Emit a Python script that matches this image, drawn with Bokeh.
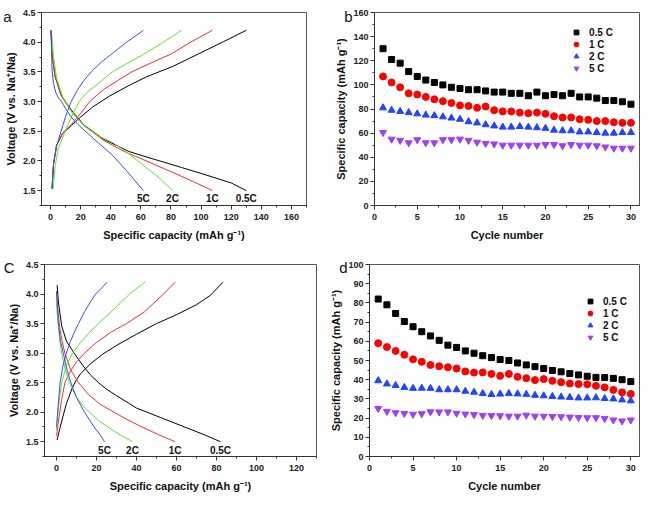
from bokeh.plotting import figure
from bokeh.layouts import column, row
from bokeh.models import (Range1d, SingleIntervalTicker, FixedTicker, LinearAxis, Legend,
                          LegendItem, NumeralTickFormatter)
from bokeh.core.properties import value
from bokeh.embed import file_html
from bokeh.resources import INLINE

# ---------------- data: panel a (charge / discharge profiles) ----------------
rates = ["0.5C", "1C", "2C", "5C"]
a_ch_05_x = [1, 2, 4, 8, 14, 20, 28, 39, 52, 64, 81, 98, 115, 130]
a_ch_05_v = [1.53, 1.95, 2.26, 2.46, 2.6, 2.74, 2.91, 3.09, 3.27, 3.42, 3.59, 3.80, 4.01, 4.2]
a_ch_1_x = [1, 2, 4, 8, 14, 20, 26, 35, 45, 54, 65, 80, 93, 107.5]
a_ch_1_v = [1.53, 1.95, 2.26, 2.47, 2.62, 2.8, 3.0, 3.2, 3.36, 3.5, 3.63, 3.8, 4.0, 4.2]
a_ch_2_x = [1.7, 3, 5, 9, 14, 19, 25, 33, 41, 50, 62, 75, 87]
a_ch_2_v = [1.53, 1.9, 2.2, 2.45, 2.75, 3.0, 3.17, 3.33, 3.5, 3.63, 3.8, 4.0, 4.2]
a_ch_5_x = [1, 2, 4, 7, 10, 13.7, 18, 22, 27, 34, 42, 50.5, 61.7]
a_ch_5_v = [1.53, 1.95, 2.25, 2.5, 2.75, 3.0, 3.2, 3.35, 3.5, 3.67, 3.83, 4.0, 4.2]

a_dc_05_x = [0.3, 1, 3, 7, 14, 22, 35, 52, 66, 87, 100, 120, 130]
a_dc_05_v = [4.2, 3.8, 3.43, 3.11, 2.85, 2.61, 2.37, 2.16, 2.05, 1.89, 1.79, 1.63, 1.5]
a_dc_1_x = [0.3, 1, 3, 7, 14, 22, 35, 48, 60, 80, 95, 107.5]
a_dc_1_v = [4.2, 3.8, 3.43, 3.1, 2.83, 2.6, 2.35, 2.17, 2.04, 1.82, 1.65, 1.5]
a_dc_2_x = [1, 2, 4, 8, 14, 22, 32, 42, 52, 62, 72, 81]
a_dc_2_v = [4.1, 3.75, 3.4, 3.08, 2.83, 2.6, 2.42, 2.3, 2.12, 1.92, 1.72, 1.5]
a_dc_5_x = [0.3, 1, 2, 3.5, 5.3, 7.4, 10, 13.7, 18, 24, 32, 41, 50, 61.7]
a_dc_5_v = [4.2, 3.54, 3.3, 3.15, 3.06, 3.0, 2.88, 2.74, 2.62, 2.48, 2.3, 2.1, 1.85, 1.5]

# ---------------- data: panel c ----------------
c_ch_05_x = [0.3, 1.5, 3, 5, 8, 10, 12, 17, 23, 30, 40, 50, 60, 70, 77, 83.2]
c_ch_05_v = [1.53, 1.7, 1.9, 2.15, 2.42, 2.55, 2.65, 2.82, 2.98, 3.13, 3.32, 3.5, 3.65, 3.82, 3.98, 4.2]
c_ch_1_x = [0, 1, 2.5, 4.2, 7, 10, 14, 20, 27, 35, 44, 53.5, 59.3]
c_ch_1_v = [1.6, 1.85, 2.2, 2.5, 2.7, 2.85, 3.0, 3.18, 3.35, 3.5, 3.7, 4.0, 4.2]
c_ch_2_x = [0, 1, 2.6, 5, 8, 12, 16, 21, 28, 36.5, 44.2]
c_ch_2_v = [1.7, 2.1, 2.5, 2.8, 3.0, 3.18, 3.33, 3.5, 3.72, 4.0, 4.2]
c_ch_5_x = [0, 0.8, 1.8, 3.2, 4.9, 7, 9, 11, 14, 17, 19.6, 22.5, 25.3]
c_ch_5_v = [1.75, 2.1, 2.5, 2.78, 3.0, 3.2, 3.36, 3.5, 3.7, 3.87, 4.0, 4.1, 4.2]

c_dc_05_x = [0.3, 1, 2.6, 5, 8.8, 13.4, 17, 21, 25, 30, 40, 52, 64, 73, 82]
c_dc_05_v = [4.15, 3.85, 3.46, 3.2, 3.0, 2.78, 2.63, 2.5, 2.39, 2.28, 2.07, 1.91, 1.75, 1.63, 1.5]
c_dc_1_x = [0, 0.5, 1.5, 2.8, 4.2, 7, 11, 16, 22, 28.8, 35, 42.7, 51, 59.3]
c_dc_1_v = [4.05, 3.8, 3.45, 3.2, 3.0, 2.72, 2.5, 2.3, 2.13, 2.0, 1.88, 1.75, 1.62, 1.5]
c_dc_2_x = [0, 0.6, 1.5, 2.6, 4.2, 6.5, 9.5, 13, 16.5, 21, 25.7, 31, 38]
c_dc_2_v = [3.85, 3.55, 3.25, 3.0, 2.75, 2.5, 2.28, 2.12, 2.0, 1.86, 1.75, 1.63, 1.5]
c_dc_5_x = [0, 0.4, 1.0, 2.0, 3.4, 5, 7.2, 10, 14, 18.8, 21.5, 24]
c_dc_5_v = [4.05, 3.8, 3.5, 3.2, 3.0, 2.75, 2.5, 2.25, 2.0, 1.75, 1.63, 1.5]

# ---------------- data: panels b and d (cycling) ----------------
cycles = list(range(1, 31))
legend_labels = ["0.5 C", "1 C", "2 C", "5 C"]
b_05 = [130, 121, 118, 111, 107, 104, 102, 100, 98, 97, 96, 96, 95, 94, 94,
        93, 93, 91, 94, 91, 92, 91, 93, 90, 90, 89, 87, 87, 86, 84]
b_1 = [107, 102, 98, 93, 92, 90, 88, 86.5, 85, 83, 82.5, 81, 82, 79, 78,
       78, 77, 76.5, 77, 76, 74, 73, 73, 71.5, 71, 70, 70, 69, 68.5, 68.5]
b_2 = [81, 79, 78, 77, 76, 75, 74.5, 73.5, 72.5, 71.5, 69.5, 68.5, 67, 66, 65,
       65, 65.5, 65, 64.5, 64, 62.5, 62, 62, 61, 61, 60.5, 60, 60, 60.5, 60.5]
b_5 = [60.5, 55, 54, 52, 54.5, 52, 52, 54.5, 54.5, 55, 54, 52.5, 51.5, 51, 50,
       50, 50, 50, 50, 50.5, 50.5, 49.5, 50.5, 50, 50, 49.5, 48.5, 47.5, 47.5, 47.5]

d_05 = [82, 79, 74.5, 70.3, 67.6, 65, 62.8, 60.5, 58, 56.8, 55, 53.8, 52.5, 51.5, 50.5,
        50, 48.7, 47.7, 46.8, 45.8, 44.8, 44.1, 43.2, 42.5, 41.8, 41.2, 41.1, 40.7, 40, 39]
d_1 = [59, 57, 55, 53, 50.6, 49.3, 47.7, 47, 46.5, 45.8, 44.3, 43.7, 43.8, 43, 42,
       43, 41.5, 40.8, 39.8, 40.3, 39.4, 38.7, 38, 37.7, 37.6, 36.8, 36, 34.7, 33.4, 32.6]
d_2 = [39.5, 37.8, 37, 36, 35.5, 35.6, 35.5, 34.8, 34.8, 34.8, 34, 33.5, 32.8, 32.3, 32.5,
       32.8, 32.6, 32.4, 31.9, 31.6, 31.3, 31, 30.8, 30.5, 30.5, 30.6, 30.2, 30, 29.5, 29]
d_5 = [25, 23.5, 22.8, 22.4, 22, 22.3, 23.3, 23.2, 23.2, 22.5, 22.1, 21.8, 21.4, 21.3, 21.2,
       21, 21, 21.5, 21, 21, 20.8, 20.7, 20.5, 20.3, 20.2, 20.2, 19.8, 19, 18.5, 19]

# ---------------- styling ----------------
FONT = "Liberation Sans"
line_colors = ["#000000", "#ff2a2a", "#55ee22", "#3350ff"]
mk_colors = ["#000000", "#ff0000", "#2244ff", "#a040f0"]


def style(p, xint, yint):
    p.xgrid.visible = False
    p.ygrid.visible = False
    p.outline_line_color = "#555555"
    p.outline_line_width = 1
    p.background_fill_color = "white"
    p.border_fill_color = "white"
    p.xaxis.ticker = SingleIntervalTicker(interval=xint, num_minor_ticks=2)
    p.yaxis.ticker = SingleIntervalTicker(interval=yint, num_minor_ticks=2)
    for ax in (p.xaxis[0], p.yaxis[0]):
        ax.axis_line_color = "#333333"
        ax.major_tick_line_color = "#333333"
        ax.minor_tick_line_color = "#333333"
        ax.major_tick_in = 0
        ax.major_tick_out = 4
        ax.minor_tick_in = 0
        ax.minor_tick_out = 2
        ax.major_label_text_font = FONT
        ax.major_label_text_font_style = "bold"
        ax.major_label_text_font_size = "9px"
        ax.major_label_text_color = "#222222"
        ax.major_label_standoff = 2
        ax.axis_label_text_font = FONT
        ax.axis_label_text_font_style = "bold"
        ax.axis_label_text_font_size = "11px"
        ax.axis_label_text_color = "#111111"
        ax.axis_label_standoff = 3
    p.xaxis[0].major_label_standoff = 4
    p.xaxis[0].axis_label_standoff = 6


def letter(p, txt, ypos, standoff):
    # panel letter drawn as the single label of an extra, line-less left axis
    ax = LinearAxis(ticker=FixedTicker(ticks=[ypos], minor_ticks=[]),
                    major_label_overrides={ypos: txt},
                    axis_line_color=None, major_tick_line_color=None, minor_tick_line_color=None,
                    major_tick_in=0, major_tick_out=0, minor_tick_in=0, minor_tick_out=0,
                    major_label_standoff=standoff,
                    major_label_text_font=FONT, major_label_text_font_size="15px",
                    major_label_text_color="#111111")
    p.add_layout(ax, "left")


def profile_panel(letter_txt, xr, ch, dc, w, h, borders, ly, xaxis_ticks):
    l, r, t, b = borders
    p = figure(width=w, height=h, output_backend="svg", toolbar_location=None,
               x_range=Range1d(*xr), y_range=Range1d(1.25, 4.5),
               min_border_left=l, min_border_right=r, min_border_top=t, min_border_bottom=b,
               x_axis_label="Specific capacity (mAh g⁻¹)", y_axis_label="Voltage (V vs. Na⁺/Na)")
    style(p, xaxis_ticks, 0.5)
    p.yaxis[0].formatter = NumeralTickFormatter(format="0.0")
    for (cx, cv), (dx, dv), col in zip(ch, dc, line_colors):
        p.line(cx, cv, line_color=col, line_width=1)
        p.line(dx, dv, line_color=col, line_width=1)
    p.text(x=[d[0][-1] for d in dc], y=[1.36] * 4, text=rates,
           text_font=value(FONT), text_font_style="bold", text_font_size="10px",
           text_align="center", text_baseline="middle", text_color="#111111")
    letter(p, letter_txt, ly, -10)
    return p


def cycle_panel(letter_txt, yr, yint, series, w, h, borders, ly, leg_loc):
    l, r, t, b = borders
    p = figure(width=w, height=h, output_backend="svg", toolbar_location=None,
               x_range=Range1d(0, 31), y_range=Range1d(*yr),
               min_border_left=l, min_border_right=r, min_border_top=t, min_border_bottom=b,
               x_axis_label="Cycle number", y_axis_label="Specific capacity (mAh g⁻¹)")
    style(p, 5, yint)
    r0 = p.scatter(cycles, series[0], marker="square", size=6, color=mk_colors[0])
    r1 = p.scatter(cycles, series[1], marker="circle", size=7, color=mk_colors[1])
    r2 = p.scatter(cycles, series[2], marker="triangle", size=7, color=mk_colors[2])
    r3 = p.scatter(cycles, series[3], marker="inverted_triangle", size=7, color=mk_colors[3])
    items = [LegendItem(label=lab, renderers=[rr])
             for lab, rr in zip(legend_labels, [r0, r1, r2, r3])]
    leg = Legend(items=items, location=leg_loc, padding=4, spacing=0, margin=0,
                 label_height=12, glyph_height=12, glyph_width=12, label_standoff=7,
                 border_line_alpha=0, background_fill_alpha=0,
                 label_text_font=FONT, label_text_font_style="bold",
                 label_text_font_size="10px", label_text_color="#111111")
    p.add_layout(leg)
    letter(p, letter_txt, ly, -20)
    return p


pa = profile_panel("a", (-6, 170),
                   [(a_ch_05_x, a_ch_05_v), (a_ch_1_x, a_ch_1_v), (a_ch_2_x, a_ch_2_v), (a_ch_5_x, a_ch_5_v)],
                   [(a_dc_05_x, a_dc_05_v), (a_dc_1_x, a_dc_1_v), (a_dc_2_x, a_dc_2_v), (a_dc_5_x, a_dc_5_v)],
                   328, 250, (36, 22, 5, 45), 4.44, 20)
pb = cycle_panel("b", (0, 160), 20, [b_05, b_1, b_2, b_5],
                 317, 250, (46, 6, 12, 38), 157, (192, 127))
pc = profile_panel("C", (-6, 130),
                   [(c_ch_05_x, c_ch_05_v), (c_ch_1_x, c_ch_1_v), (c_ch_2_x, c_ch_2_v), (c_ch_5_x, c_ch_5_v)],
                   [(c_dc_05_x, c_dc_05_v), (c_dc_1_x, c_dc_1_v), (c_dc_2_x, c_dc_2_v), (c_dc_5_x, c_dc_5_v)],
                   322, 244, (36, 6, 14, 36), 4.45, 20)
pd_ = cycle_panel("d", (0, 100), 10, [d_05, d_1, d_2, d_5],
                  323, 244, (47, 6, 12, 34), 98.5, (211, 109))

layout = column(row(pa, pb), row(pc, pd_))
open("out.html", "w").write(file_html(layout, INLINE))
